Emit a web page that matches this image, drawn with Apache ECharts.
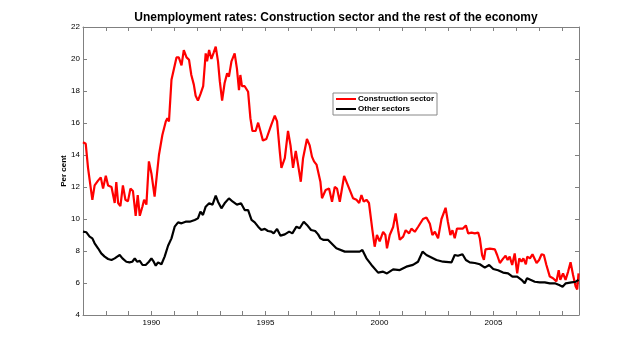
<!DOCTYPE html>
<html>
<head>
<meta charset="utf-8">
<script src="https://cdn.jsdelivr.net/npm/echarts@6/dist/echarts.min.js"></script>
<style>
  html, body { margin: 0; padding: 0; background: #fff; }
  #main { width: 640px; height: 354px; }
</style>
</head>
<body>
<div id="main"></div>
<script>
// data (decimal years)
var constructionYears = [
  1987.00, 1987.12, 1987.22, 1987.41, 1987.51, 1987.66, 1987.78, 1987.88, 1988.00, 1988.10,
  1988.25, 1988.32, 1988.39, 1988.46, 1988.54, 1988.64, 1988.75, 1988.86, 1988.97, 1989.08,
  1989.19, 1989.31, 1989.40, 1989.49, 1989.61, 1989.68, 1989.78, 1989.89, 1990.00, 1990.14,
  1990.33, 1990.48, 1990.63, 1990.70, 1990.77, 1990.88, 1991.10, 1991.20, 1991.32, 1991.42,
  1991.54, 1991.65, 1991.75, 1991.86, 1991.94, 1992.04, 1992.15, 1992.27, 1992.38, 1992.44,
  1992.53, 1992.63, 1992.73, 1992.82, 1992.92, 1993.00, 1993.10, 1993.21, 1993.32, 1993.40,
  1993.51, 1993.65, 1993.75, 1993.84, 1993.90, 1993.97, 1994.09, 1994.24, 1994.34, 1994.43,
  1994.57, 1994.68, 1994.78, 1994.89, 1995.04, 1995.11, 1995.26, 1995.41, 1995.51, 1995.63,
  1995.70, 1995.85, 1995.99, 1996.10, 1996.21, 1996.33, 1996.43, 1996.55, 1996.65, 1996.82,
  1996.94, 1997.04, 1997.13, 1997.24, 1997.31, 1997.41, 1997.48, 1997.64, 1997.79, 1997.92,
  1998.04, 1998.14, 1998.26, 1998.45, 1998.58, 1998.70, 1998.84, 1998.99, 1999.11, 1999.21,
  1999.31, 1999.43, 1999.54, 1999.69, 1999.79, 1999.89, 2000.01, 2000.16, 2000.26, 2000.33,
  2000.45, 2000.60, 2000.71, 2000.82, 2000.89, 2001.04, 2001.15, 2001.30, 2001.40, 2001.55,
  2001.69, 2001.91, 2002.06, 2002.21, 2002.32, 2002.43, 2002.57, 2002.72, 2002.90, 2003.00,
  2003.11, 2003.20, 2003.30, 2003.40, 2003.52, 2003.66, 2003.79, 2003.89, 2004.04, 2004.18,
  2004.33, 2004.40, 2004.50, 2004.58, 2004.65, 2004.84, 2005.06, 2005.16, 2005.28, 2005.43,
  2005.53, 2005.62, 2005.71, 2005.82, 2005.93, 2006.04, 2006.13, 2006.23, 2006.31, 2006.42,
  2006.48, 2006.60, 2006.71, 2006.89, 2007.00, 2007.11, 2007.21, 2007.32, 2007.47, 2007.61,
  2007.76, 2007.86, 2007.93, 2008.05, 2008.16, 2008.27, 2008.38, 2008.49, 2008.60, 2008.67,
  2008.73
];
var constructionRate = [
  14.8, 14.7, 13.2, 11.2, 12.1, 12.4, 12.6, 11.9, 12.7, 12.1,
  12.0, 11.9, 11.0, 12.3, 11.0, 10.8, 12.1, 11.2, 11.1, 11.9,
  11.75, 10.2, 11.5, 10.2, 10.8, 11.2, 10.9, 13.6, 12.85, 11.4,
  14.0, 15.25, 16.1, 16.3, 16.1, 18.7, 20.1, 20.1, 19.6, 20.56,
  20.1, 19.95, 19.0, 18.4, 17.7, 17.4, 17.8, 18.3, 20.35, 19.85,
  20.56, 20.0, 20.4, 20.77, 19.85, 18.6, 17.4, 18.5, 19.1, 18.9,
  19.85, 20.35, 19.4, 18.06, 19.0, 18.3, 18.3, 17.95, 16.3, 15.5,
  15.5, 16.02, 15.5, 14.9, 15.0, 15.0, 15.9, 16.46, 16.1, 14.2,
  13.2, 13.8, 15.5, 14.6, 13.2, 14.25, 13.4, 12.33, 13.8, 15.0,
  14.6, 13.9, 13.6, 13.4, 13.5, 12.33, 11.3, 11.81, 11.9, 11.08,
  12.0, 11.9, 11.08, 12.69, 12.23, 11.81, 11.3, 11.2, 11.0, 11.5,
  11.08, 11.2, 11.0, 9.31, 8.27, 9.0, 8.6, 9.2, 9.0, 8.17,
  9.0, 9.5, 10.35, 9.3, 8.7, 8.9, 9.3, 9.1, 9.4, 9.2,
  9.5, 10.0, 10.1, 9.7, 9.0, 9.2, 8.8, 10.0, 10.7, 9.83,
  9.0, 9.3, 8.8, 9.4, 9.4, 9.4, 9.6, 9.1, 9.15, 9.1,
  9.15, 8.8, 7.75, 7.44, 8.1, 8.15, 8.1, 7.75, 7.25, 7.54,
  7.7, 7.44, 7.65, 7.125, 7.85, 6.6, 7.54, 7.33, 7.54, 7.17,
  7.65, 7.54, 7.8, 7.25, 7.44, 7.8, 7.75, 7.125, 6.4, 6.3,
  6.1, 6.8, 6.2, 6.6, 6.2, 6.7, 7.3, 6.5, 5.8, 5.6,
  6.6
];
var otherYears = [
  1987.00, 1987.15, 1987.29, 1987.41, 1987.51, 1987.66, 1987.80, 1987.95, 1988.10, 1988.25,
  1988.39, 1988.50, 1988.61, 1988.73, 1988.90, 1989.04, 1989.16, 1989.27, 1989.37, 1989.49,
  1989.61, 1989.75, 1989.89, 1990.00, 1990.10, 1990.19, 1990.29, 1990.44, 1990.58, 1990.73,
  1990.88, 1991.02, 1991.17, 1991.32, 1991.50, 1991.68, 1991.90, 1992.04, 1992.15, 1992.26,
  1992.38, 1992.53, 1992.68, 1992.82, 1992.92, 1993.07, 1993.21, 1993.40, 1993.57, 1993.75,
  1993.93, 1994.09, 1994.24, 1994.39, 1994.53, 1994.68, 1994.82, 1994.97, 1995.11, 1995.26,
  1995.36, 1995.51, 1995.66, 1995.85, 1996.04, 1996.18, 1996.36, 1996.50, 1996.68, 1996.82,
  1997.00, 1997.18, 1997.31, 1997.41, 1997.55, 1997.75, 1998.11, 1998.48, 1998.84, 1999.13,
  1999.25, 1999.43, 1999.65, 1999.94, 2000.16, 2000.33, 2000.60, 2000.89, 2001.18, 2001.47,
  2001.69, 2001.89, 2002.06, 2002.28, 2002.50, 2002.79, 2003.16, 2003.30, 2003.44, 2003.64,
  2003.79, 2003.96, 2004.18, 2004.40, 2004.62, 2004.81, 2004.99, 2005.20, 2005.42, 2005.64,
  2005.83, 2006.04, 2006.23, 2006.37, 2006.47, 2006.62, 2006.81, 2007.03, 2007.25, 2007.47,
  2007.69, 2007.88, 2008.03, 2008.17, 2008.42, 2008.61, 2008.73
];
var otherRate = [
  9.21, 9.17, 8.9, 8.79, 8.48, 8.17, 7.85, 7.65, 7.5, 7.44,
  7.54, 7.65, 7.75, 7.54, 7.33, 7.29, 7.33, 7.54, 7.33, 7.38,
  7.125, 7.125, 7.33, 7.54, 7.33, 7.08, 7.29, 7.17, 7.65, 8.33,
  8.79, 9.52, 9.79, 9.73, 9.83, 9.83, 9.94, 10.04, 10.46, 10.25,
  10.77, 10.98, 10.9, 11.46, 11.08, 10.67, 10.98, 11.29, 11.08, 10.9,
  10.98, 10.56, 10.56, 9.94, 9.79, 9.52, 9.31, 9.38, 9.25, 9.21,
  9.1, 9.38, 8.96, 9.04, 9.21, 9.1, 9.52, 9.42, 9.83, 9.63,
  9.31, 9.25, 9.04, 8.79, 8.69, 8.69, 8.17, 7.96, 7.96, 7.96,
  8.06, 7.54, 7.13, 6.65, 6.71, 6.6, 6.85, 6.81, 7.02, 7.13,
  7.33, 7.96, 7.75, 7.6, 7.44, 7.33, 7.29, 7.75, 7.7, 7.8,
  7.44, 7.29, 7.25, 7.17, 6.96, 7.125, 6.875, 6.8, 6.65, 6.6,
  6.4, 6.4, 6.2, 5.98, 6.3, 6.2, 6.08, 6.04, 6.04, 5.98,
  5.98, 5.875, 5.77, 5.98, 6.04, 6.08, 6.2
];
var yearLabels = [1990, 1995, 2000, 2005];

function pairs(xs, ys) {
  var out = [];
  for (var i = 0; i < xs.length; i++) out.push([xs[i], ys[i]]);
  return out;
}

var myChart = echarts.init(document.getElementById('main'));

var axisColor = '#808080';
var font = 'Liberation Sans, Arial, sans-serif';

var xBase = {
  type: 'value',
  min: 1987,
  max: 2008.75,
  interval: 1,
  axisLine: { show: true, lineStyle: { color: axisColor, width: 1 } },
  axisTick: { show: true, inside: true, length: 4, lineStyle: { color: axisColor } },
  splitLine: { show: false }
};
var yBase = {
  type: 'value',
  min: 4,
  max: 22,
  interval: 2,
  axisLine: { show: true, lineStyle: { color: axisColor, width: 1 } },
  axisTick: { show: true, inside: true, length: 4, lineStyle: { color: axisColor } },
  splitLine: { show: false }
};

option = {
  animation: false,
  backgroundColor: '#fff',
  title: {
    text: 'Unemployment rates: Construction sector and the rest of the economy',
    left: 331,
    textAlign: 'center',
    top: 7,
    textStyle: { fontFamily: font, fontSize: 12, fontWeight: 'bold', color: '#000' }
  },
  legend: {
    orient: 'vertical',
    left: 333,
    top: 93,
    padding: [2, 3, 2, 3],
    itemGap: 2,
    itemWidth: 20,
    itemHeight: 2,
    icon: 'rect',
    backgroundColor: '#fff',
    borderColor: '#888',
    borderWidth: 1,
    borderRadius: 0,
    textStyle: { fontFamily: font, fontSize: 8, fontWeight: 'bold', color: '#000', padding: [0, 0, 0, -3] },
    data: ['Construction sector', 'Other sectors']
  },
  grid: { left: 83, right: 61, top: 27, bottom: 39 },
  xAxis: [
    Object.assign({}, xBase, {
      position: 'bottom',
      axisLabel: {
        fontFamily: font, fontSize: 8, color: '#000', margin: 4,
        formatter: function (v) { return yearLabels.indexOf(v) >= 0 ? String(v) : ''; }
      }
    }),
    Object.assign({}, xBase, { position: 'top', axisLabel: { show: false } })
  ],
  yAxis: [
    Object.assign({}, yBase, {
      position: 'left',
      name: 'Per cent',
      nameLocation: 'middle',
      nameGap: 15,
      nameMoveOverlap: false,
      nameTextStyle: { fontFamily: font, fontSize: 8, fontWeight: 'bold', color: '#000' },
      axisLabel: { fontFamily: font, fontSize: 8, color: '#000', margin: 3 }
    }),
    Object.assign({}, yBase, { position: 'right', axisLabel: { show: false } })
  ],
  series: [{
    name: 'Construction sector',
    type: 'line',
    showSymbol: false,
    color: '#ff0000',
    lineStyle: { width: 2.2, color: '#ff0000' },
    data: pairs(constructionYears, constructionRate)
  }, {
    name: 'Other sectors',
    type: 'line',
    showSymbol: false,
    color: '#000000',
    lineStyle: { width: 2.2, color: '#000000' },
    data: pairs(otherYears, otherRate)
  }]
};

myChart.setOption(option);
</script>
</body>
</html>
